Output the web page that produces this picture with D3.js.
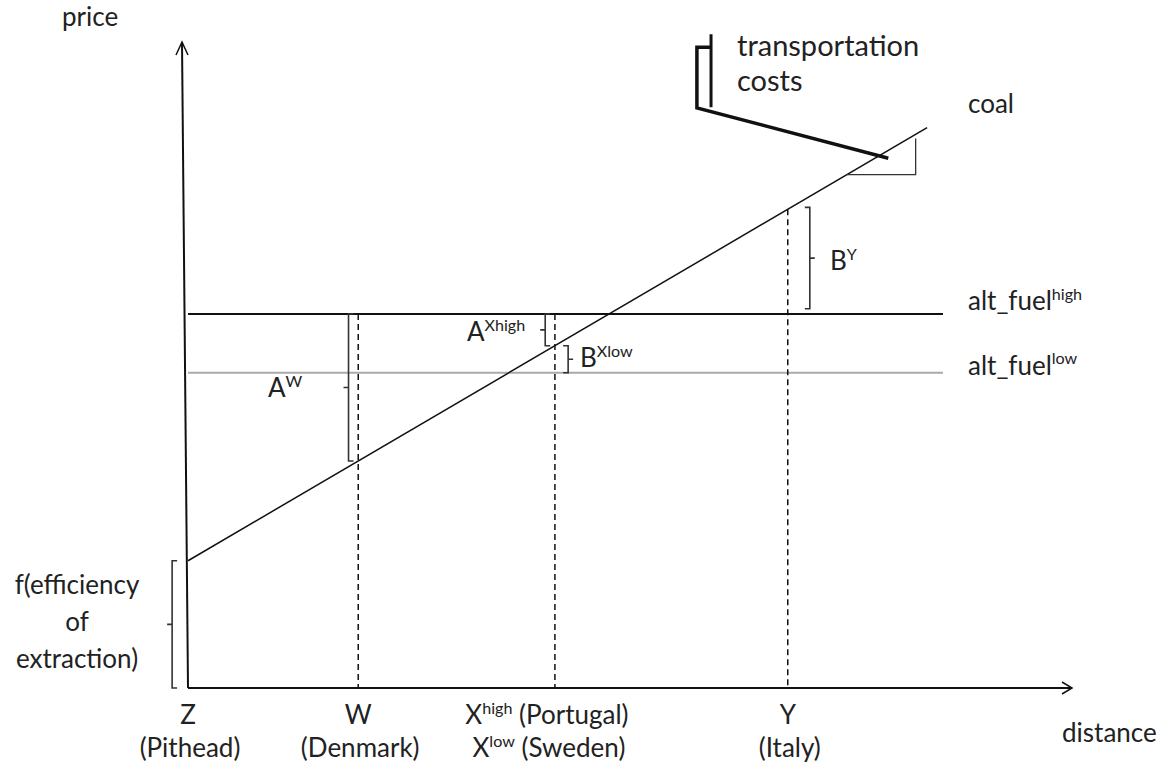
<!DOCTYPE html>
<html><head><meta charset="utf-8">
<script src="https://cdn.jsdelivr.net/npm/d3@7"></script>
<style>body{margin:0;background:#fff}svg text{font-family:Lato,"Open Sans",sans-serif;fill:#222}</style>
</head><body><svg id="c" width="1166" height="770"></svg>
<script>
// ---- data (abstract units: distance 0..10, price 0..10) ----
const sites = ["Z", "W", "X", "Y"];
const siteDistance = [0, 1.93, 4.16, 6.80];
const siteLabelTop = [["Z",""], ["W",""], ["X","high"," (Portugal)"], ["Y",""]];
const siteLabelBottom = [["(Pithead)"], ["(Denmark)"], ["X","low"," (Sweden)"], ["(Italy)"]];
const coalIntercept = 1.97;   // f(efficiency of extraction)
const coalSlope = 0.80;       // transportation cost per unit distance
const coalEnd = 8.38;
const altFuelNames = ["high", "low"];
const altFuelPrice = [5.79, 4.88];
const altFuelEnd = 8.56;
const axisMax = [10, 10];

const svg = d3.select("#c");
const x = d3.scaleLinear().domain([0, 10]).range([188, 1070]);
const y = d3.scaleLinear().domain([0, 10]).range([688, 42]);
const coal = d => coalIntercept + coalSlope * d;

// axes (hand-drawn style with open arrowheads)
svg.append("line").attr("x1", x(0)).attr("y1", y(0)).attr("x2", x(0) - 6).attr("y2", y(axisMax[1]))
  .attr("stroke", "#111").attr("stroke-width", 2);
svg.append("path").attr("d", `M${x(0)-12},${y(axisMax[1])+13} L${x(0)-6},${y(axisMax[1])} L${x(0)},${y(axisMax[1])+13}`)
  .attr("fill", "none").attr("stroke", "#111").attr("stroke-width", 1.5);
svg.append("line").attr("x1", x(0)).attr("y1", y(0)).attr("x2", x(axisMax[0])+2).attr("y2", y(0))
  .attr("stroke", "#111").attr("stroke-width", 2);
svg.append("path").attr("d", `M${x(axisMax[0])-8},${y(0)-6} L${x(axisMax[0])+2},${y(0)} L${x(axisMax[0])-8},${y(0)+6}`)
  .attr("fill", "none").attr("stroke", "#111").attr("stroke-width", 1.5);

// alt fuel lines
const altColor = ["#111", "#aaa"];
altFuelPrice.forEach((p, i) => {
  svg.append("line").attr("x1", x(0)).attr("x2", x(altFuelEnd)).attr("y1", y(p)).attr("y2", y(p))
    .attr("stroke", altColor[i]).attr("stroke-width", 2);
});

// dashed drop lines
const dashTop = [null, altFuelPrice[0], altFuelPrice[0], coal(siteDistance[3])];
siteDistance.forEach((d, i) => {
  if (dashTop[i] == null) return;
  svg.append("line").attr("x1", x(d)).attr("x2", x(d)).attr("y1", y(dashTop[i])).attr("y2", y(0))
    .attr("stroke", "#111").attr("stroke-width", 1.5).attr("stroke-dasharray", "6,4");
});

// coal line
svg.append("line").attr("x1", x(0)).attr("y1", y(coal(0))).attr("x2", x(coalEnd)).attr("y2", y(coal(coalEnd)))
  .attr("stroke", "#111").attr("stroke-width", 1.5);

// brackets: [xPos, p0, p1, side(-1 tick left, +1 tick right)]
function bracket(px, p0, p1, side) {
  const X = x(px), y0 = y(p0), y1 = y(p1), h = 5, ym = (y0 + y1) / 2;
  svg.append("path").attr("d",
    `M${X - side*h},${y0} L${X},${y0} L${X},${y1} L${X - side*h},${y1} M${X},${ym} L${X + side*h},${ym}`)
    .attr("fill", "none").attr("stroke", "#333").attr("stroke-width", 1.6);
}
bracket(siteDistance[1] - 0.11, altFuelPrice[0], coal(siteDistance[1]), -1);
bracket(siteDistance[2] - 0.11, altFuelPrice[0], coal(siteDistance[2]), -1);
bracket(siteDistance[2] + 0.15, coal(siteDistance[2]), altFuelPrice[1], 1);
bracket(siteDistance[3] + 0.25, coal(siteDistance[3]) + 0.03, altFuelPrice[0] + 0.08, 1);
bracket(-0.18, coalIntercept, 0, -1);

// transportation cost triangle
const triA = 7.47, triB = 8.25;
svg.append("path").attr("d", `M${x(triA)},${y(coal(triA))} L${x(triB)},${y(coal(triA))} L${x(triB)},${y(coal(triB))+4}`)
  .attr("fill", "none").attr("stroke", "#333").attr("stroke-width", 1.3);
// pointer
svg.append("line").attr("x1", x(5.93)).attr("y1", y(10.12)).attr("x2", x(5.93)).attr("y2", y(8.99))
  .attr("stroke", "#111").attr("stroke-width", 3);
svg.append("path").attr("d", `M${x(5.93)},${y(9.92)} L${x(5.77)},${y(9.92)} L${x(5.77)},${y(8.98)} L${x(7.94)},${y(8.2)}`)
  .attr("fill", "none").attr("stroke", "#111").attr("stroke-width", 3.5);

// text helper with superscripts
function label(tx, ty, parts, size, anchor) {
  const t = svg.append("text").attr("x", tx).attr("y", ty).attr("font-size", size).attr("text-anchor", anchor || "start");
  parts.forEach((p, i) => {
    if (!p) return;
    const sp = t.append("tspan").text(p);
    if (i % 2 === 1) sp.attr("font-size", size * 0.62).attr("dy", -size * 0.4);
    else if (i > 0) sp.attr("dy", size * 0.4);
  });
  return t;
}
const fs = 26;
label(62, 26, ["price"], fs);
label(1062, 742, ["distance"], fs);
label(737, 56, ["transportation"], 29);
label(737, 91, ["costs"], 29);
label(968, 113, ["coal"], fs);
altFuelPrice.forEach((p, i) => label(968, y(p) - 4 + i*6, ["alt_fuel", altFuelNames[i]], fs));
label(268, 397, ["A", "W"], fs);
label(467, 341, ["A", "Xhigh"], fs);
label(580, 367, ["B", "Xlow"], fs);
label(830, 270, ["B", "Y"], fs);
["f(efficiency", "of", "extraction)"].forEach((s, i) => label(77, 594 + i*37, [s], fs, "middle"));
siteDistance.forEach((d, i) => {
  label(x(d) + (i===2 ? -8 : 0), 724, siteLabelTop[i], fs, "middle");
  label(x(d) + (i===2 ? -6 : 2), 757, siteLabelBottom[i], fs, "middle");
});
</script></body></html>
